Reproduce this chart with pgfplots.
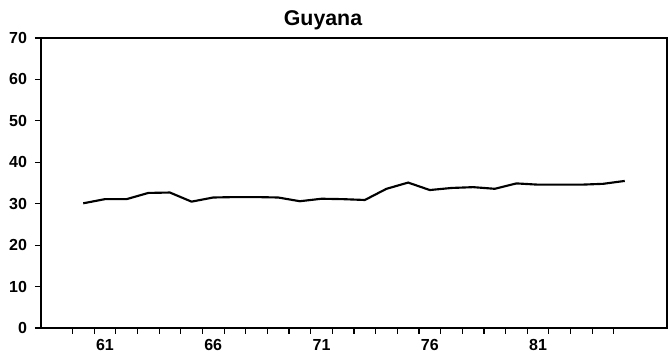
\documentclass[border=0pt]{standalone}
\usepackage{pgfplots}
\pgfplotsset{compat=1.18}
\usepackage{fontspec}
\setmainfont{Liberation Sans}

\begin{document}
\begin{tikzpicture}
% bounding box: 668 x 359 px at 0.75pt/px, axis box starts at (41,328)
\useasboundingbox (-30.75pt,-23.25pt) rectangle (470.25pt,246pt);
\begin{axis}[
    at={(0,0)}, anchor=south west,
    scale only axis,
    width=469.5pt, height=217.5pt,
    xmin=58.05, xmax=86.95,
    ymin=0, ymax=70,
    ytick={0,10,...,70},
    xtick={59.5,60.5,...,84.5},
    xticklabels={},
    extra x ticks={61,66,71,76,81},
    extra x tick style={major tick length=0pt},
    xtick pos=bottom, ytick pos=left,
    tick align=outside,
    major tick length=4.5pt,
    xtick style={black, line width=0.8pt},
    ytick style={black, line width=0.9pt},
    axis line style={line width=1pt},
    tick label style={font=\fontsize{12}{13}\selectfont\bfseries},
    /pgf/number format/assume math mode=true,
    yticklabel style={xshift=-2.5pt},
    xticklabel style={yshift=-5pt},
    clip=false,
]
\addplot[black, line width=1.6pt] coordinates {
    (60,30.1) (61,31.1) (62,31.1) (63,32.6) (64,32.7) (65,30.5)
    (66,31.5) (67,31.6) (68,31.6) (69,31.5) (70,30.6) (71,31.2)
    (72,31.1) (73,30.9) (74,33.6) (75,35.1) (76,33.3) (77,33.8)
    (78,34.0) (79,33.6) (80,34.9) (81,34.6) (82,34.6) (83,34.6)
    (84,34.8) (85,35.5)
};
\end{axis}
\node[anchor=base, font=\fontsize{16}{18}\selectfont\bfseries] at (211.5pt,226.5pt) {Guyana};
\end{tikzpicture}
\end{document}
